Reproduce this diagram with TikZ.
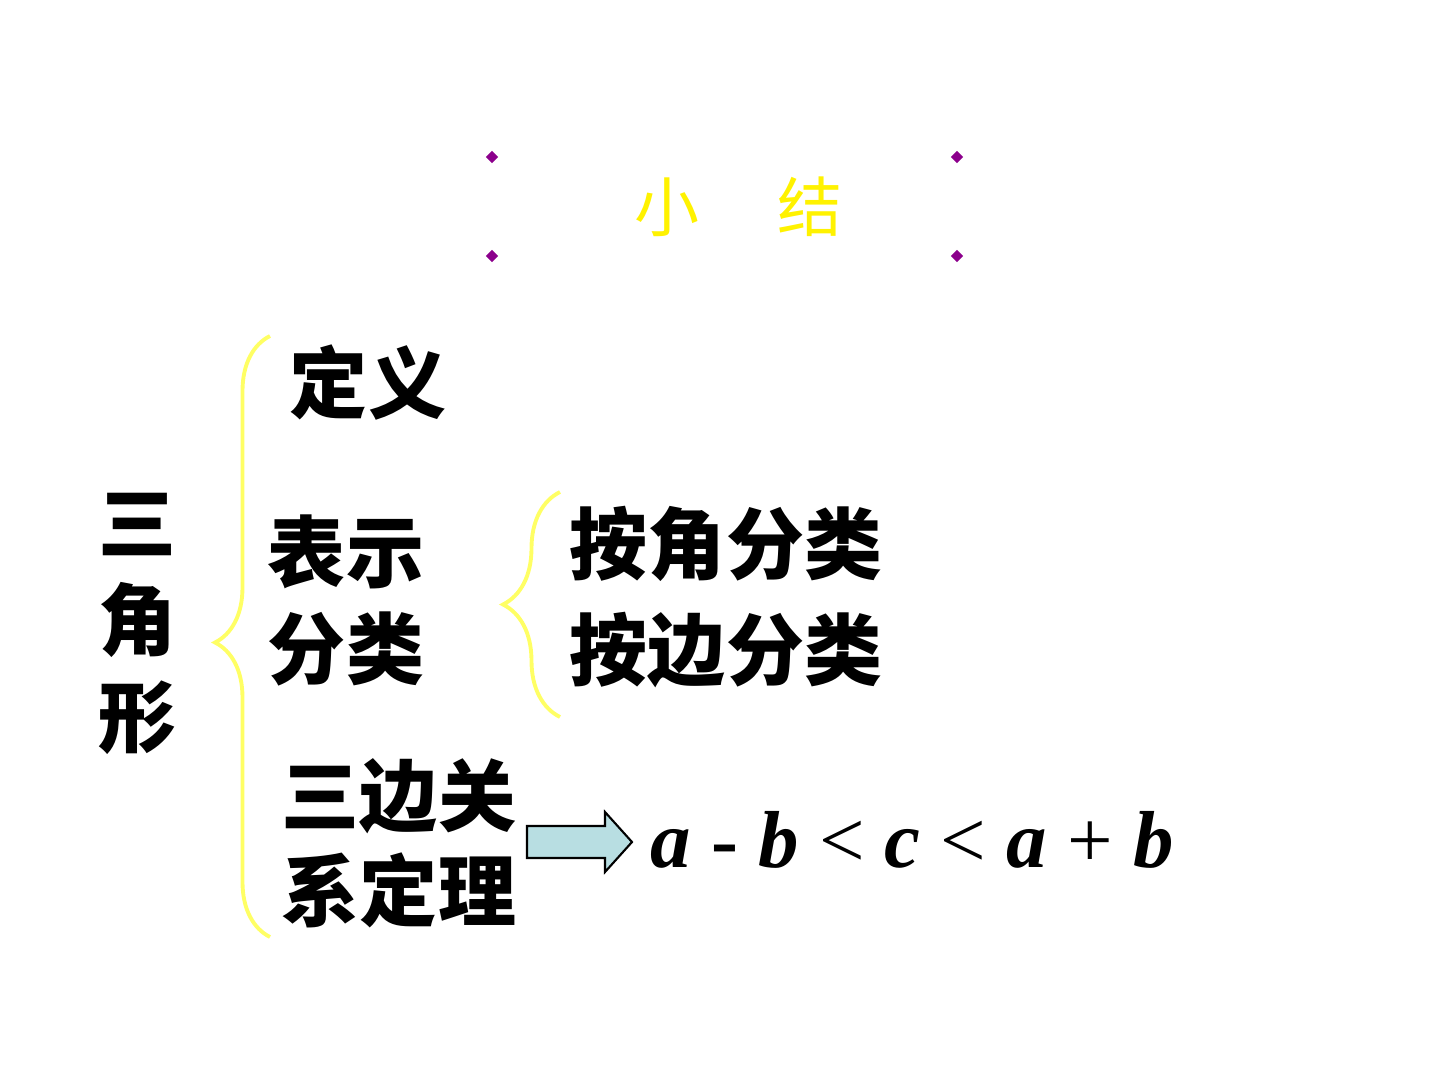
\documentclass[tikz,border=0pt]{standalone}
\usepackage{fontspec}
\setmainfont{Liberation Serif}
\newfontfamily\cjk{Noto Sans CJK SC}[BoldFont={Noto Sans CJK SC Black}]
\usetikzlibrary{shapes.geometric,decorations.pathreplacing,calc}
\definecolor{dotpurple}{RGB}{140,0,140}
\definecolor{braceyellow}{RGB}{255,255,100}
\definecolor{arrowblue}{RGB}{184,222,226}
\tikzset{
  cjknode/.style = {align=center, inner sep=0pt, text centered, font=\cjk\bfseries},
  txt_b/.style = {cjknode, font=\cjk\bfseries\fontsize{22.2}{27.6}\selectfont},
  txt_t/.style = {cjknode, yellow, font=\cjk\fontsize{18.5}{22}\selectfont},
  dot_p/.style = {diamond, fill=dotpurple, inner sep=0pt, minimum size=0.13cm},
  brace_y/.style = {braceyellow, line width=1.1pt, decorate, decoration={brace, amplitude=#1}},
  arrow_b/.style = {draw=black, fill=arrowblue, line width=0.6pt, line join=miter}
}

\begin{document}
\begin{tikzpicture}
	\useasboundingbox (0,0) rectangle (14.4,-10.8);
	% title
	\node [txt_t] (title) at (7.39,-2.07) {小\hspace{1.2em}结};
	\node [dot_p] (d1) at (4.92,-1.57) {};
	\node [dot_p] (d2) at (9.57,-1.57) {};
	\node [dot_p] (d3) at (4.92,-2.56) {};
	\node [dot_p] (d4) at (9.57,-2.56) {};
	% left column
	\node [txt_b] (tri) at (1.38,-6.24) {三\\角\\形};
	\coordinate (b1top) at (2.70,-3.36);
	\coordinate (b1bot) at (2.70,-9.37);
	\draw [brace_y=0.55cm, decoration={aspect=0.49}] (b1bot) -- (b1top);
	\node [txt_b] (def) at (3.68,-3.83) {定义};
	\node [txt_b] (cls) at (3.46,-6.00) {表示\\分类};
	\node [txt_b, font=\cjk\bfseries\fontsize{22.2}{27}\selectfont] (thm) at (3.99,-8.43) {三边关\\系定理};
	% classification
	\coordinate (b2top) at (5.60,-4.92);
	\coordinate (b2bot) at (5.60,-7.17);
	\draw [brace_y=0.57cm] (b2bot) -- (b2top);
	\node [txt_b, font=\cjk\bfseries\fontsize{22.2}{30.2}\selectfont] (kind) at (7.26,-5.97) {按角分类\\按边分类};
	% theorem
	\node [anchor=base west, inner sep=0pt, font=\fontsize{23}{27}\selectfont] (ineq) at (6.50,-8.67)
		{\textbf{\textit{a}} \textbf{-} \textbf{\textit{b}} < \textbf{\textit{c}} < \textbf{\textit{a}} + \textbf{\textit{b}}};
	\coordinate (arr) at (5.27,-8.42);
	\draw [arrow_b] (arr) ++(0,0.16) -- ++(0.78,0) -- ++(0,0.14) -- ++(0.27,-0.30)
		-- ++(-0.27,-0.30) -- ++(0,0.14) -- ++(-0.78,0) -- cycle;
\end{tikzpicture}
\end{document}
